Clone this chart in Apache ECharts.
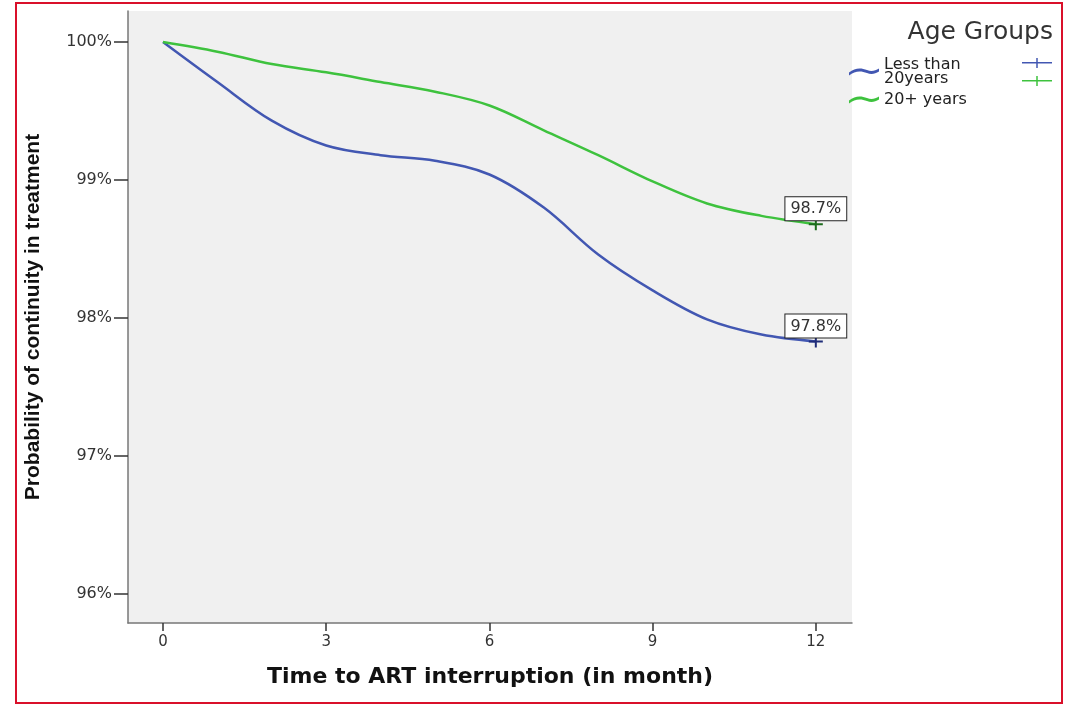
<!DOCTYPE html>
<html>
<head>
<meta charset="utf-8">
<script src="https://cdn.jsdelivr.net/npm/echarts@6/dist/echarts.min.js"></script>
<style>html,body{margin:0;padding:0;background:#fff;}#c{width:1076px;height:707px;}</style>
</head>
<body>
<div id="c"></div>
<script>
// ---- data ----
const months = [0, 1, 2, 3, 4, 5, 6, 7, 8, 9, 10, 11, 12];
const lessThan20 = [100, 99.71, 99.43, 99.25, 99.18, 99.14, 99.04, 98.80, 98.46, 98.20, 97.99, 97.88, 97.83];
const over20 = [100, 99.93, 99.84, 99.78, 99.71, 99.64, 99.54, 99.36, 99.18, 98.99, 98.83, 98.74, 98.68];
const seriesNames = ['Less than\n20years', '20+ years'];
const xTicks = [0, 3, 6, 9, 12];
const yTicks = [96, 97, 98, 99, 100];

const colors = ['#4257b2', '#3ec23e'];
const darkColors = ['#1f2c78', '#1d6b1d'];
const plusPath = 'path://M-1,-6 h2 v5 h6 v2 h-6 v5 h-2 v-5 h-6 v-2 h6 z';
const wavePath = 'path://M0,6 C6,1 12,1 18,3.5 C22,5 26,4.5 30,2 L30,5 C26,7.5 22,8 18,6.5 C12,4 6,4 0,9 Z';

function buildData(vals, idx) {
  return vals.map((v, i) => {
    if (i !== vals.length - 1) return [months[i], v];
    return {
      value: [months[i], v],
      symbol: plusPath,
      symbolSize: [14, 12],
      itemStyle: { color: darkColors[idx] },
      label: {
        show: true,
        position: 'top',
        distance: -2,
        formatter: p => p.value[1].toFixed(1) + '%',
        backgroundColor: '#fff',
        borderColor: '#222',
        borderWidth: 1,
        padding: [4, 5, 3, 5],
        color: '#333',
        fontFamily: 'DejaVu Sans',
        fontSize: 16
      }
    };
  });
}

function plus(x, y, color) {
  return [
    { type: 'rect', shape: { x: x - 15, y: y - 1, width: 30, height: 1.5 }, style: { fill: color }, silent: true },
    { type: 'rect', shape: { x: x - 0.75, y: y - 5, width: 1.5, height: 10 }, style: { fill: color }, silent: true }
  ];
}

const chart = echarts.init(document.getElementById('c'));
chart.setOption({
  animation: false,
  backgroundColor: '#fff',
  title: {
    text: 'Age Groups',
    right: 23, top: 20, padding: 0,
    textStyle: { fontFamily: 'DejaVu Sans', fontSize: 25, fontWeight: 'normal', color: '#333' }
  },
  legend: {
    orient: 'vertical',
    left: 849, top: 57, padding: 0,
    itemWidth: 30, itemHeight: 9, itemGap: 5,
    icon: wavePath,
    data: seriesNames,
    textStyle: { fontFamily: 'DejaVu Sans', fontSize: 16, color: '#222', lineHeight: 14 }
  },
  grid: {
    left: 128, top: 11, right: 224, bottom: 84,
    show: true, backgroundColor: '#f0f0f0', borderWidth: 0
  },
  xAxis: {
    type: 'value',
    min: -0.643, max: 12.665,
    name: 'Time to ART interruption (in month)',
    nameLocation: 'middle',
    nameGap: 43,
    nameTextStyle: { fontFamily: 'DejaVu Sans', fontWeight: 'bold', fontSize: 22, color: '#111' },
    axisLine: { show: true, onZero: false, lineStyle: { color: '#777', width: 1.5 } },
    axisTick: { show: true, customValues: xTicks, length: 8, lineStyle: { color: '#333', width: 1.5 } },
    axisLabel: { customValues: xTicks, margin: 12, fontFamily: 'DejaVu Sans', fontSize: 15, color: '#333' },
    splitLine: { show: false }
  },
  yAxis: {
    type: 'value',
    min: 95.79, max: 100.2246,
    name: 'Probability of continuity in treatment',
    nameLocation: 'middle',
    nameGap: 84,
    nameTextStyle: { fontFamily: 'Liberation Sans', fontWeight: 'bold', fontSize: 21, color: '#111' },
    axisLine: { show: true, onZero: false, lineStyle: { color: '#777', width: 1.5 } },
    axisTick: { show: true, customValues: yTicks, length: 14, lineStyle: { color: '#333', width: 1.5 } },
    axisLabel: { customValues: yTicks, margin: 16, formatter: v => v + '%', fontFamily: 'DejaVu Sans', fontSize: 16, color: '#333' },
    splitLine: { show: false }
  },
  series: [
    {
      name: seriesNames[0], type: 'line', smooth: 0.35,
      symbol: 'none', showSymbol: true,
      lineStyle: { color: colors[0], width: 2.5 },
      itemStyle: { color: colors[0] },
      data: buildData(lessThan20, 0)
    },
    {
      name: seriesNames[1], type: 'line', smooth: 0.35,
      symbol: 'none', showSymbol: true,
      lineStyle: { color: colors[1], width: 2.5 },
      itemStyle: { color: colors[1] },
      data: buildData(over20, 1)
    }
  ],
  graphic: [
    { type: 'rect', shape: { x: 16, y: 3, width: 1046, height: 700 }, style: { fill: 'none', stroke: '#d9102a', lineWidth: 2 }, silent: true }
  ].concat(plus(1037, 63, colors[0]), plus(1037, 81, colors[1]))
});
</script>
</body>
</html>
